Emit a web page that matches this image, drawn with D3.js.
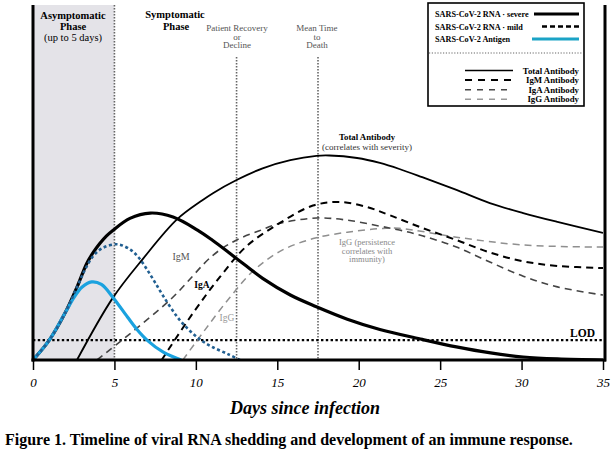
<!DOCTYPE html>
<html><head><meta charset="utf-8">
<script src="https://cdn.jsdelivr.net/npm/d3@7"></script>
<style>
body{margin:0;background:#fff;}
svg{display:block;font-family:"Liberation Serif","Times New Roman",serif;}
</style></head><body>
<svg id="chart" width="616" height="457"></svg>
<script>
// ---- data (day, level) ----
const severeDays = [0,1,2,2.7,3.3,3.7,4.1,4.5,4.9,5.95,7.2,8.6,10.1,11,12.1,13,14.1,15.8,17.4,19.3,21.3,23.9,26,28.1,30.1,32.2,35];
const severeVals = [0,5.6,13.5,20.5,27.2,30.3,32.8,34.9,36.5,39.9,41.4,40.3,36.6,33.8,30,26.8,23,18.3,15,11.5,8.6,5.8,3.7,2,0.85,0.3,0];
const mildDays = [0,1,2,2.7,3.2,3.7,4.3,5.2,6,6.5,7,7.5,8,8.8,9.5,10.25,11,12,12.7];
const mildVals = [0,5.6,13.5,20.5,25.5,29.3,31.6,32.6,31,28.8,25.5,21.8,18,12.5,8.8,5.8,3.7,1.6,0];
const antigenDays = [0,1,2,2.5,3,3.6,4.2,4.9,5.8,6.4,7,8,9.1];
const antigenVals = [0,5.6,13.5,17.5,20.5,22,21.3,17.7,12.1,8.5,5.6,2.2,0];
const totalDays = [2.7,4.9,6.75,8.84,10.4,11.05,12.5,14.1,15.8,17.4,18.2,19.9,21.3,22.5,23.9,26,28.05,30.1,32.2,35];
const totalVals = [0,17.5,28.5,39.6,45,47,50.7,54,56.3,57.5,57.6,56.9,55.5,53.8,51.5,47.9,44.2,41.4,38.9,35.8];
const igmDays = [3.93,8.41,11.05,12.5,13.9,15,17.4,19.3,21.3,22.5,23.9,26,28.05,30.1,32.2,35];
const igmVals = [0,16.9,29.5,33.8,36.4,38.3,40,39.4,37.7,36.6,35,31.8,27.6,23.6,20.6,18.3];
const igaDays = [7.9,9.82,11.48,13.1,15.16,17.19,18.85,20.5,21.9,23.9,26,28.05,30.1,32.2,35];
const igaVals = [0,13.2,23.4,32,38.6,43.5,44.5,43.1,40.8,37.2,33.8,30.3,27.8,26.5,25.9];
const iggDays = [9.2,10.56,12.1,13.5,15.16,17.2,19.3,21.3,22.5,26,30.1,35];
const iggVals = [0,8.5,17.7,25,30.6,34.2,36,37,37.1,34.6,32.4,31.8];
const lodLevel = 5.6;
const phaseMarks = [5, 12.5, 17.5];
const xTicks = [0,5,10,15,20,25,30,35];
const legendRNA = ["SARS-CoV-2 RNA · severe","SARS-CoV-2 RNA · mild","SARS-CoV-2 Antigen"];
const legendAb = ["Total Antibody","IgM Antibody","IgA Antibody","IgG Antibody"];

const svg = d3.select("#chart");
const x = d3.scaleLinear().domain([0,35]).range([33,603]);
const y = d3.scaleLinear().domain([0,100]).range([360,5]);

// shaded asymptomatic phase
svg.append("rect").attr("x",x(0)).attr("y",y(100)).attr("width",x(5)-x(0)).attr("height",y(0)-y(100)).attr("fill","#e4e3e8");

// vertical dotted markers
svg.append("line").attr("x1",x(phaseMarks[0])).attr("x2",x(phaseMarks[0])).attr("y1",y(100)).attr("y2",y(0))
  .attr("stroke","#666").attr("stroke-width",1.6).attr("stroke-dasharray","1.5,1.5");
[phaseMarks[1],phaseMarks[2]].forEach(d=>{
  svg.append("line").attr("x1",x(d)).attr("x2",x(d)).attr("y1",57).attr("y2",y(0))
    .attr("stroke","#666").attr("stroke-width",1.6).attr("stroke-dasharray","1.5,1.5");
});

// LOD
svg.append("line").attr("x1",x(0)).attr("x2",x(35)).attr("y1",y(lodLevel)).attr("y2",y(lodLevel))
  .attr("stroke","#000").attr("stroke-width",2.4).attr("stroke-dasharray","2.4,2.4");
svg.append("text").attr("x",595).attr("y",337).attr("text-anchor","end").attr("font-weight","bold").attr("font-size",11.5).text("LOD");

svg.append("defs").append("clipPath").attr("id","clip").append("rect").attr("x",x(0)).attr("y",0).attr("width",x(35)-x(0)).attr("height",y(0));
const g = svg.append("g").attr("clip-path","url(#clip)");
const line = d3.line().x(d=>x(d[0])).y(d=>y(d[1])).curve(d3.curveCatmullRom.alpha(0.5));
const zip = (a,b)=>a.map((d,i)=>[d,b[i]]);

function draw(days, vals, stroke, width, dash){
  const p = g.append("path").datum(zip(days,vals)).attr("d",line).attr("fill","none")
    .attr("stroke",stroke).attr("stroke-width",width).attr("stroke-linejoin","round");
  if(dash) p.attr("stroke-dasharray",dash);
}
draw(iggDays, iggVals, "#8f8f8f", 1.5, "7,5");
draw(igmDays, igmVals, "#444", 1.6, "7,5");
draw(igaDays, igaVals, "#000", 2, "7,5");
draw(totalDays, totalVals, "#000", 1.8);
draw(severeDays, severeVals, "#000", 3.2);
draw(antigenDays, antigenVals, "#1aa2df", 3.2);
draw(mildDays, mildVals, "#215f91", 2.6, "3,2.6");

// frame: left, right, bottom
svg.append("line").attr("x1",x(0)).attr("x2",x(0)).attr("y1",y(100)).attr("y2",y(0)+1.5).attr("stroke","#000").attr("stroke-width",3);
svg.append("line").attr("x1",605).attr("x2",605).attr("y1",y(100)).attr("y2",y(0)+1.5).attr("stroke","#000").attr("stroke-width",3);

// x axis
const xAxis = d3.axisBottom(x).tickValues(xTicks).tickSize(10).tickFormat(d3.format("d"));
const ax = svg.append("g").attr("transform",`translate(0,${y(0)})`).call(xAxis);
ax.select(".domain").attr("d",`M${x(0)-1.5},0H606`).attr("stroke","#000").attr("stroke-width",3);
ax.selectAll(".tick line").attr("stroke","#000").attr("stroke-width",1.5);
ax.selectAll(".tick text").attr("font-family","Liberation Serif, serif").attr("font-style","italic").attr("font-size",13).attr("fill","#000").attr("dy","1.1em");
svg.append("text").attr("x",305).attr("y",414).attr("text-anchor","middle").attr("font-style","italic").attr("font-weight","bold").attr("font-size",18).text("Days since infection");
svg.append("text").attr("x",5).attr("y",445).attr("font-weight","bold").attr("font-size",16).text("Figure 1. Timeline of viral RNA shedding and development of an immune response.");

// top labels
function label(tx, ty, lines, size, weight, fill, lh){
  const t = svg.append("text").attr("x",tx).attr("y",ty).attr("text-anchor","middle").attr("font-size",size).attr("font-weight",weight).attr("fill",fill);
  lines.forEach((s,i)=>t.append("tspan").attr("x",tx).attr("dy",i?lh:0).text(s));
  return t;
}
label(73,18.5,["Asymptomatic","Phase"],10.5,"bold","#000",11.5);
label(73,41,["(up to 5 days)"],10.5,"normal","#000",0);
label(175,17.5,["Symptomatic"],10.5,"bold","#000",0);
label(176,30,["Phase"],10.5,"bold","#000",0);
label(237,31,["Patient Recovery","or","Decline"],9,"normal","#555",8.5);
label(317,31,["Mean Time","to","Death"],9,"normal","#555",8.5);
label(367,140,["Total Antibody"],8.8,"bold","#000",0);
label(367,149.5,["(correlates with severity)"],9,"normal","#333",0);
label(367,245,["IgG (persistence","correlates with","immunity)"],8.5,"normal","#888",8.5);
label(181,260,["IgM"],10,"normal","#555",0);
label(202,288,["IgA"],9.5,"bold","#000",0);
label(227,321,["IgG"],9.5,"normal","#999",0);

// legend
const L = svg.append("g");
L.append("rect").attr("x",428).attr("y",3).attr("width",156).attr("height",103).attr("fill","#fff").attr("stroke","#000").attr("stroke-width",1.6);
const rnaStyles = [{c:"#000",w:3,d:null,x1:534},{c:"#000",w:2.6,d:"5,3",x1:542},{c:"#1ba3c6",w:3,d:null,x1:532}];
legendRNA.forEach((s,i)=>{
  const yy = 17+i*12.5;
  L.append("text").attr("x",435).attr("y",yy).attr("font-size",8.2).attr("font-weight","bold").attr("fill","#000").text(s);
  const ln = L.append("line").attr("x1",rnaStyles[i].x1).attr("x2",579).attr("y1",yy-3).attr("y2",yy-3).attr("stroke",rnaStyles[i].c).attr("stroke-width",rnaStyles[i].w);
  if(rnaStyles[i].d) ln.attr("stroke-dasharray",rnaStyles[i].d);
});
L.append("line").attr("x1",429).attr("x2",583).attr("y1",53).attr("y2",53).attr("stroke","#666").attr("stroke-width",1.2).attr("stroke-dasharray","1.2,1.6");
const abStyles = [{c:"#000",w:1.6,d:null},{c:"#000",w:2,d:"7,6"},{c:"#444",w:1.6,d:"6,6"},{c:"#999",w:1.4,d:"6,6"}];
legendAb.forEach((s,i)=>{
  const yy = 73.5+i*9.6;
  L.append("text").attr("x",579).attr("y",yy).attr("text-anchor","end").attr("font-size",8.8).attr("font-weight","bold").text(s);
  const ln = L.append("line").attr("x1",465).attr("x2",513).attr("y1",yy-3).attr("y2",yy-3).attr("stroke",abStyles[i].c).attr("stroke-width",abStyles[i].w);
  if(abStyles[i].d) ln.attr("stroke-dasharray",abStyles[i].d);
});
</script></body></html>
